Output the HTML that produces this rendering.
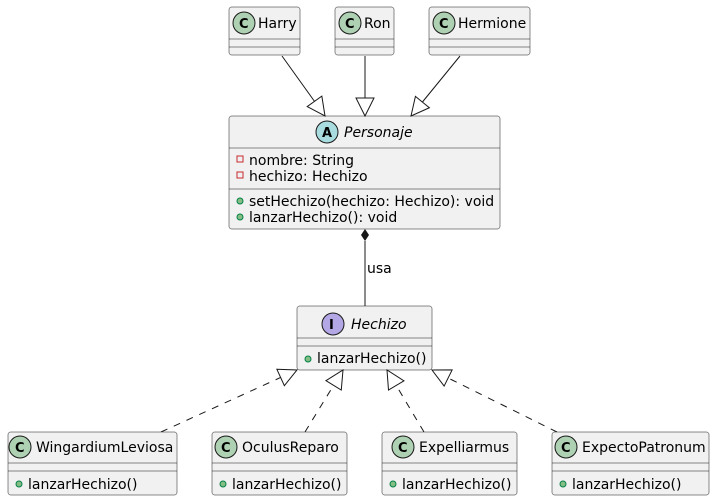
<!DOCTYPE html>
<html><head><meta charset="utf-8"><style>
html,body{margin:0;padding:0;background:#fff;}
svg{display:block;}
text{font-family:"DejaVu Sans","Liberation Sans",sans-serif;font-size:14px;fill:#000;}
.b{fill:#F1F1F1;stroke:#181818;stroke-width:0.5;}
.l{stroke:#181818;stroke-width:0.5;}
.e{stroke:#181818;stroke-width:1;fill:none;}
.d{stroke:#181818;stroke-width:1;fill:none;stroke-dasharray:7,7;}
.cc{fill:#ADD1B2;stroke:#181818;stroke-width:1;}
.ca{fill:#A9DCDF;stroke:#181818;stroke-width:1;}
.ci{fill:#B4A7E5;stroke:#181818;stroke-width:1;}
.g{font-weight:bold;font-size:13px;}
</style></head><body>
<svg width="715" height="501" viewBox="0 0 715 501" xmlns="http://www.w3.org/2000/svg">
<defs>
<marker id="tri" viewBox="0 0 20 20" refX="19" refY="10" markerWidth="20" markerHeight="20" markerUnits="userSpaceOnUse" orient="auto">
<path d="M1,1 L19,10 L1,19 Z" fill="#fff" stroke="#181818" stroke-width="1"/>
</marker>
</defs>

<!-- Harry -->
<rect class="b" x="229" y="7" width="71" height="48" rx="2.5"/>
<circle class="cc" cx="244" cy="23" r="11"/><text class="g" x="239" y="28">C</text>
<text x="258" y="28">Harry</text>
<line class="l" x1="229" y1="39" x2="300" y2="39"/><line class="l" x1="229" y1="47" x2="300" y2="47"/>
<!-- Ron -->
<rect class="b" x="335" y="7" width="59" height="48" rx="2.5"/>
<circle class="cc" cx="350" cy="23" r="11"/><text class="g" x="345" y="28">C</text>
<text x="364" y="28">Ron</text>
<line class="l" x1="335" y1="39" x2="394" y2="39"/><line class="l" x1="335" y1="47" x2="394" y2="47"/>
<!-- Hermione -->
<rect class="b" x="429" y="7" width="101" height="48" rx="2.5"/>
<circle class="cc" cx="444" cy="23" r="11"/><text class="g" x="439" y="28">C</text>
<text x="458" y="28">Hermione</text>
<line class="l" x1="429" y1="39" x2="530" y2="39"/><line class="l" x1="429" y1="47" x2="530" y2="47"/>

<!-- Personaje -->
<rect class="b" x="229" y="116" width="271" height="113" rx="2.5"/>
<circle class="ca" cx="327" cy="132" r="11"/><text class="g" x="322" y="137">A</text>
<text x="344" y="137" font-style="italic">Personaje</text>
<line class="l" x1="229" y1="148" x2="500" y2="148"/>
<rect x="237" y="156" width="6" height="6" fill="none" stroke="#C82930" stroke-width="1"/>
<text x="249" y="165">nombre: String</text>
<rect x="237" y="172" width="6" height="6" fill="none" stroke="#C82930" stroke-width="1"/>
<text x="249" y="181">hechizo: Hechizo</text>
<line class="l" x1="229" y1="189" x2="500" y2="189"/>
<circle cx="240" cy="201" r="3" fill="#84BE84" stroke="#038048" stroke-width="1"/>
<text x="249" y="206">setHechizo(hechizo: Hechizo): void</text>
<circle cx="240" cy="217" r="3" fill="#84BE84" stroke="#038048" stroke-width="1"/>
<text x="249" y="222">lanzarHechizo(): void</text>

<!-- inheritance -->
<line class="e" x1="282" y1="56" x2="325" y2="116" marker-end="url(#tri)"/>
<line class="e" x1="365" y1="56" x2="365" y2="116" marker-end="url(#tri)"/>
<line class="e" x1="460" y1="56" x2="411" y2="116" marker-end="url(#tri)"/>

<!-- composition -->
<line class="e" x1="365" y1="241" x2="365" y2="306"/>
<path d="M365,229 L369,235 L365,241 L361,235 Z" fill="#181818"/>
<text x="367" y="273" font-size="13">usa</text>

<!-- Hechizo -->
<rect class="b" x="297" y="306" width="135" height="64" rx="2.5"/>
<circle class="ci" cx="333" cy="324" r="11"/><text class="g" x="329" y="329">I</text>
<text x="351" y="329" font-style="italic">Hechizo</text>
<line class="l" x1="297" y1="338" x2="432" y2="338"/>
<line class="l" x1="297" y1="346" x2="432" y2="346"/>
<circle cx="308" cy="359" r="3" fill="#84BE84" stroke="#038048" stroke-width="1"/>
<text x="317" y="363">lanzarHechizo()</text>

<!-- realizations -->
<line class="d" x1="161" y1="432" x2="297" y2="370" marker-end="url(#tri)"/>
<line class="d" x1="305" y1="432" x2="343" y2="370" marker-end="url(#tri)"/>
<line class="d" x1="424" y1="432" x2="387" y2="370" marker-end="url(#tri)"/>
<line class="d" x1="557" y1="432" x2="432" y2="370" marker-end="url(#tri)"/>

<!-- bottom classes -->
<rect class="b" x="8" y="432" width="169" height="63" rx="2.5"/>
<circle class="cc" cx="20" cy="447" r="11"/><text class="g" x="15" y="452">C</text>
<text x="36" y="452">WingardiumLeviosa</text>
<line class="l" x1="8" y1="463" x2="177" y2="463"/><line class="l" x1="8" y1="471" x2="177" y2="471"/>
<circle cx="19" cy="484" r="3" fill="#84BE84" stroke="#038048" stroke-width="1"/>
<text x="28" y="489">lanzarHechizo()</text>

<rect class="b" x="212" y="432" width="135" height="63" rx="2.5"/>
<circle class="cc" cx="226" cy="447" r="11"/><text class="g" x="221" y="452">C</text>
<text x="242" y="452">OculusReparo</text>
<line class="l" x1="212" y1="463" x2="347" y2="463"/><line class="l" x1="212" y1="471" x2="347" y2="471"/>
<circle cx="223" cy="484" r="3" fill="#84BE84" stroke="#038048" stroke-width="1"/>
<text x="232" y="489">lanzarHechizo()</text>

<rect class="b" x="382" y="432" width="135" height="63" rx="2.5"/>
<circle class="cc" cx="403" cy="447" r="11"/><text class="g" x="398" y="452">C</text>
<text x="419" y="452">Expelliarmus</text>
<line class="l" x1="382" y1="463" x2="517" y2="463"/><line class="l" x1="382" y1="471" x2="517" y2="471"/>
<circle cx="393" cy="484" r="3" fill="#84BE84" stroke="#038048" stroke-width="1"/>
<text x="402" y="489">lanzarHechizo()</text>

<rect class="b" x="552" y="432" width="157" height="63" rx="2.5"/>
<circle class="cc" cx="566" cy="447" r="11"/><text class="g" x="561" y="452">C</text>
<text x="582" y="452">ExpectoPatronum</text>
<line class="l" x1="552" y1="463" x2="709" y2="463"/><line class="l" x1="552" y1="471" x2="709" y2="471"/>
<circle cx="563" cy="484" r="3" fill="#84BE84" stroke="#038048" stroke-width="1"/>
<text x="572" y="489">lanzarHechizo()</text>
</svg>
</body></html>
